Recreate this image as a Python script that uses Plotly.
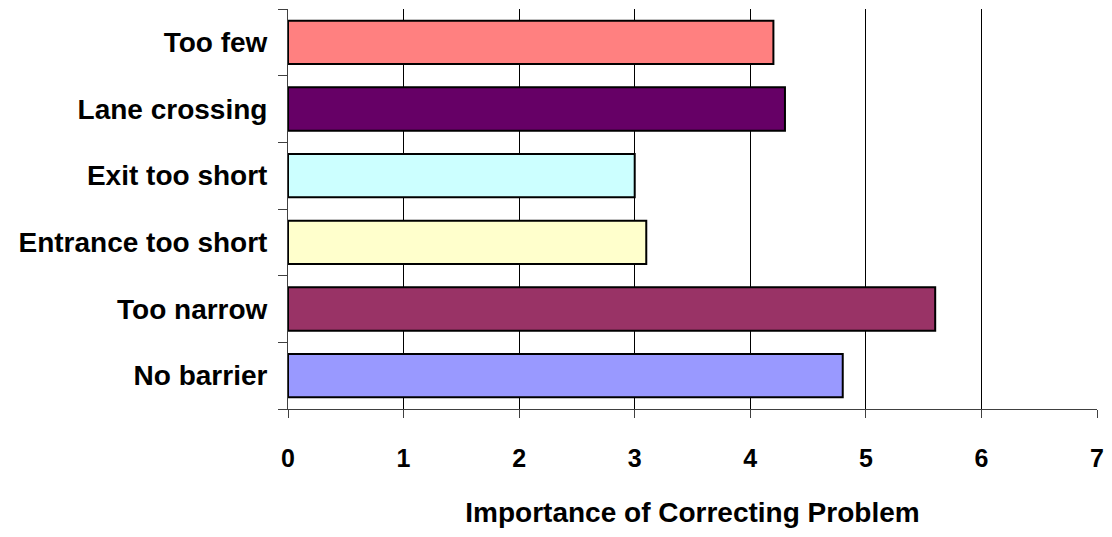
import plotly.graph_objects as go

categories = ["No barrier", "Too narrow", "Entrance too short", "Exit too short", "Lane crossing", "Too few"]
values = [4.8, 5.6, 3.1, 3.0, 4.3, 4.2]
colors = ["#9999FF", "#993366", "#FFFFCC", "#CCFFFF", "#660066", "#FF8080"]
x_ticks = [0, 1, 2, 3, 4, 5, 6, 7]
x_title = "Importance of Correcting Problem"

font_family = "Liberation Sans, Arial, sans-serif"

fig = go.Figure()
fig.add_trace(go.Bar(
    y=categories, x=values, orientation="h",
    marker=dict(color=colors, line=dict(color="black", width=2)),
    width=0.65,
))

fig.update_layout(
    width=1112, height=537,
    margin=dict(l=288, r=15, t=9, b=128),
    paper_bgcolor="white", plot_bgcolor="white",
    showlegend=False,
    font=dict(family=font_family, color="black", size=24, weight="bold"),
)
fig.update_xaxes(
    range=[0, 7], tickvals=x_ticks, ticktext=[str(t) for t in x_ticks],
    showgrid=True, gridcolor="black", gridwidth=1,
    showline=True, linecolor="#404040", linewidth=1,
    ticks="outside", ticklen=8, tickcolor="#404040",
    tickfont=dict(size=25, weight="bold"),
    ticklabelstandoff=19,
    title=dict(text=x_title, font=dict(size=28, weight="bold"), standoff=31),
    zeroline=False, automargin=False,
)
fig.update_yaxes(
    categoryorder="array", categoryarray=categories,
    showline=True, linecolor="#404040", linewidth=1,
    ticks="outside", ticklen=9, tickcolor="#404040", tickson="boundaries",
    tickfont=dict(size=28, weight="bold"),
    ticklabelstandoff=14,
    showgrid=False, automargin=False,
)

fig.write_html(
    "out.html",
    config={"displayModeBar": False},
    post_script="document.body.style.margin='0';document.body.style.overflow='hidden';",
)
